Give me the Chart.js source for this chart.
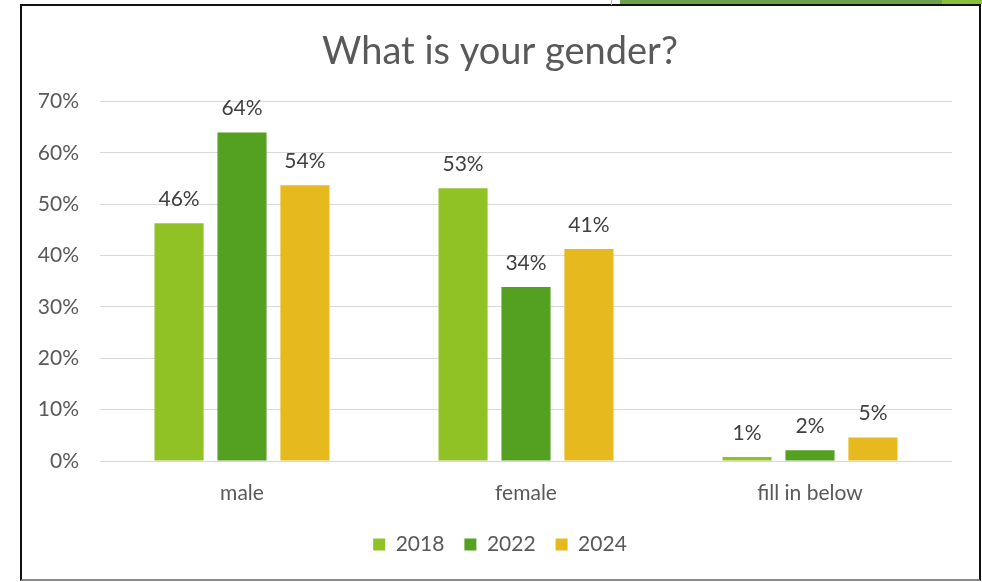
<!DOCTYPE html>
<html>
<head>
<meta charset="utf-8">
<script src="https://cdn.jsdelivr.net/npm/chart.js@4/dist/chart.umd.min.js"></script>
<style>
  html, body { margin: 0; padding: 0; background: #fff; }
  #wrap { position: relative; width: 982px; height: 582px; overflow: hidden; }
  #chart { position: absolute; left: 0; top: 0; }
  .frame { position: absolute; left: 20px; top: 4px; width: 957px; height: 573px;
           border: 2px solid #111; border-bottom-color: #8a8a8a; pointer-events: none; }
  .strip { position: absolute; top: 0; height: 4px; }
</style>
</head>
<body>
<div id="wrap">
  <canvas id="chart" width="982" height="582"></canvas>
  <div class="frame"></div>
  <div class="strip" style="left:611px;width:1px;background:#bbb;height:5px"></div>
  <div class="strip" style="left:620px;width:322px;background:#6f9e4d"></div>
  <div class="strip" style="left:942px;width:40px;background:#8dbd3c"></div>
</div>
<script>
const categories = ['male', 'female', 'fill in below'];
const years = ['2018', '2022', '2024'];
const values2018 = [46.3, 53.1, 0.8];
const values2022 = [64.0, 33.9, 2.1];
const values2024 = [53.7, 41.3, 4.6];
const yTicks = [0, 10, 20, 30, 40, 50, 60, 70];
const colors = ['#90c226', '#54a021', '#e6b91e'];

const FONT = 'Lato, "Open Sans", sans-serif';
const TEXT = '#595959';

// labels above each bar, placed from the bar elements Chart.js computed
const barLabels = {
  id: 'barLabels',
  afterDatasetsDraw(chart) {
    const ctx = chart.ctx;
    ctx.save();
    ctx.font = '21px ' + FONT;
    ctx.fillStyle = '#404040';
    ctx.textAlign = 'center';
    ctx.textBaseline = 'middle';
    chart.data.datasets.forEach((ds, i) => {
      chart.getDatasetMeta(i).data.forEach((bar, j) => {
        ctx.fillText(Math.round(ds.data[j]) + '%', bar.x, bar.y - 24);
      });
    });
    ctx.restore();
  }
};

const series = [values2018, values2022, values2024];

new Chart(document.getElementById('chart'), {
  type: 'bar',
  data: {
    labels: categories,
    datasets: years.map((y, i) => ({
      label: y,
      data: series[i],
      backgroundColor: colors[i],
      borderWidth: 0,
      categoryPercentage: 0.665,
      barPercentage: 0.78
    }))
  },
  options: {
    responsive: false,
    animation: false,
    layout: { padding: { left: 20, right: 2, top: 10, bottom: 17 } },
    scales: {
      x: {
        grid: { display: false },
        border: { display: false },
        ticks: { color: TEXT, font: { family: FONT, size: 21 }, padding: 12 },
        afterFit: (s) => { s.height = 53; }
      },
      y: {
        min: 0,
        max: 70,
        afterBuildTicks: (s) => { s.ticks = yTicks.map(v => ({ value: v })); },
        grid: { color: '#d9d9d9', lineWidth: 1, drawTicks: false },
        border: { display: false },
        ticks: { color: TEXT, font: { family: FONT, size: 21 }, padding: 21, callback: (v) => v + '%' },
        afterFit: (s) => { s.width = 80; }
      },
      // empty right-hand spacer so the plot ends at 952 while title and legend stay centred
      spacer: {
        type: 'linear',
        position: 'right',
        grid: { display: false },
        border: { display: false },
        ticks: { display: false },
        afterFit: (s) => { s.width = 28; }
      }
    },
    plugins: {
      title: {
        display: true,
        text: 'What is your gender?',
        color: TEXT,
        font: { family: FONT, size: 38, weight: 'normal' },
        padding: { top: 19, bottom: 27 }
      },
      legend: {
        position: 'bottom',
        labels: {
          color: TEXT,
          font: { family: FONT, size: 21 },
          boxWidth: 12,
          boxHeight: 12,
          padding: 20
        }
      },
      tooltip: { enabled: false }
    }
  },
  plugins: [barLabels]
});
</script>
</body>
</html>
